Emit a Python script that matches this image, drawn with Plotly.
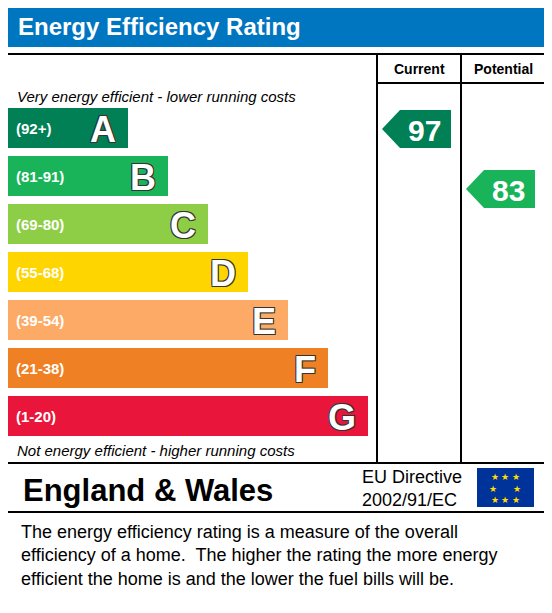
import plotly.graph_objects as go

bands = ["A", "B", "C", "D", "E", "F", "G"]
ranges = ["(92+)", "(81-91)", "(69-80)", "(55-68)", "(39-54)", "(21-38)", "(1-20)"]
band_min = [92, 81, 69, 55, 39, 21, 1]
colors = ["#008054", "#19b459", "#8dce46", "#ffd500", "#fcaa65", "#ef8023", "#e9153b"]
current = 97
potential = 83

W, H = 552, 613
OFF = 8  # browser body margin
top0, step, bh = 108, 48, 40
ends = [128 + 40 * i for i in range(len(bands))]
ys = [top0 + step * i + bh / 2 for i in range(len(bands))]

fig = go.Figure()
fig.add_trace(go.Bar(
    y=ys, x=[e - 7 for e in ends], base=7, orientation="h", width=bh,
    marker=dict(color=colors, line=dict(width=0)), hoverinfo="skip",
))
ann = []
for i, b in enumerate(bands):
    ann.append(dict(x=14, y=ys[i], text="<b>" + ranges[i] + "</b>", showarrow=False, xanchor="left",
                    font=dict(size=15, color="white", family="Liberation Sans")))
    ann.append(dict(x=ends[i] - 10, y=ys[i] + 1, text="<b>" + b + "</b>", showarrow=False, xanchor="right",
                    font=dict(size=36, color="white", family="Liberation Sans",
                              shadow="1px 1px 0 #333, -1px -1px 0 #333, 1px -1px 0 #333, -1px 1px 0 #333")))

def band_of(v):
    return next(i for i, m in enumerate(band_min) if v >= m)

shapes = []
def arrow(v, x0, x1, y):
    c = colors[band_of(v)]
    shapes.append(dict(type="path", xref="x", yref="y", fillcolor=c, line=dict(width=0),
                       path=f"M {x0} {y} L {x0+18} {y-19} L {x1} {y-19} L {x1} {y+19} L {x0+18} {y+19} Z"))
    ann.append(dict(x=(x0 + x1) / 2 + 8, y=y + 1, text="<b>" + str(v) + "</b>", showarrow=False,
                    font=dict(size=30, color="white", family="Liberation Sans")))

arrow(current, 382, 451, ys[band_of(current)] + 1)
arrow(potential, 466, 535, ys[band_of(potential)] + 13)

line = dict(color="black", width=2)
shapes += [
    dict(type="rect", x0=5, x1=547, y0=5, y1=47, fillcolor="#0075c0", line=dict(width=0)),
    dict(type="rect", x0=6, x1=546, y0=54, y1=512, line=line),
    dict(type="line", x0=6, x1=546, y0=463, y1=463, line=line),
    dict(type="line", x0=377, x1=546, y0=83, y1=83, line=line),
    dict(type="line", x0=377, x1=377, y0=54, y1=463, line=line),
    dict(type="line", x0=461, x1=461, y0=54, y1=463, line=line),
    dict(type="rect", x0=477, x1=534, y0=468, y1=507, fillcolor="#003399", line=dict(width=0)),
]
ann += [
    dict(x=16, y=26, text="<b>Energy Efficiency Rating</b>", xanchor="left", showarrow=False,
         font=dict(size=24, color="white", family="Liberation Sans")),
    dict(x=419, y=69, text="<b>Current</b>", showarrow=False, font=dict(size=14, family="Liberation Sans", color="black")),
    dict(x=503, y=69, text="<b>Potential</b>", showarrow=False, font=dict(size=14, family="Liberation Sans", color="black")),
    dict(x=15, y=96, text="<i>Very energy efficient - lower running costs</i>", xanchor="left", showarrow=False,
         font=dict(size=15, family="Liberation Sans", color="black")),
    dict(x=15, y=450, text="<i>Not energy efficient - higher running costs</i>", xanchor="left", showarrow=False,
         font=dict(size=15, family="Liberation Sans", color="black")),
    dict(x=21, y=490, text="<b>England &amp; Wales</b>", xanchor="left", showarrow=False,
         font=dict(size=31, family="Liberation Sans", color="black")),
    dict(x=464, y=488, text="EU Directive<br>2002/91/EC", xanchor="right", align="left", showarrow=False,
         font=dict(size=18, family="Liberation Sans", color="black")),
    dict(x=505, y=488, text="★ ★ ★<br>★       ★<br>★ ★ ★", showarrow=False,
         font=dict(size=9, color="#ffdd00")),
    dict(x=19, y=555, text="The energy efficiency rating is a measure of the overall<br>efficiency of a home.  The higher the rating the more energy<br>efficient the home is and the lower the fuel bills will be.",
         xanchor="left", align="left", showarrow=False, font=dict(size=18, family="Liberation Sans", color="black")),
]

fig.update_layout(
    width=W - OFF, height=H - OFF, margin=dict(l=0, r=0, t=0, b=0), showlegend=False,
    paper_bgcolor="white", plot_bgcolor="white", bargap=0,
    xaxis=dict(range=[OFF, W], visible=False, fixedrange=True),
    yaxis=dict(range=[H, OFF], visible=False, fixedrange=True),
    shapes=shapes, annotations=ann,
)
fig.write_html("out.html", config={"displayModeBar": False})
